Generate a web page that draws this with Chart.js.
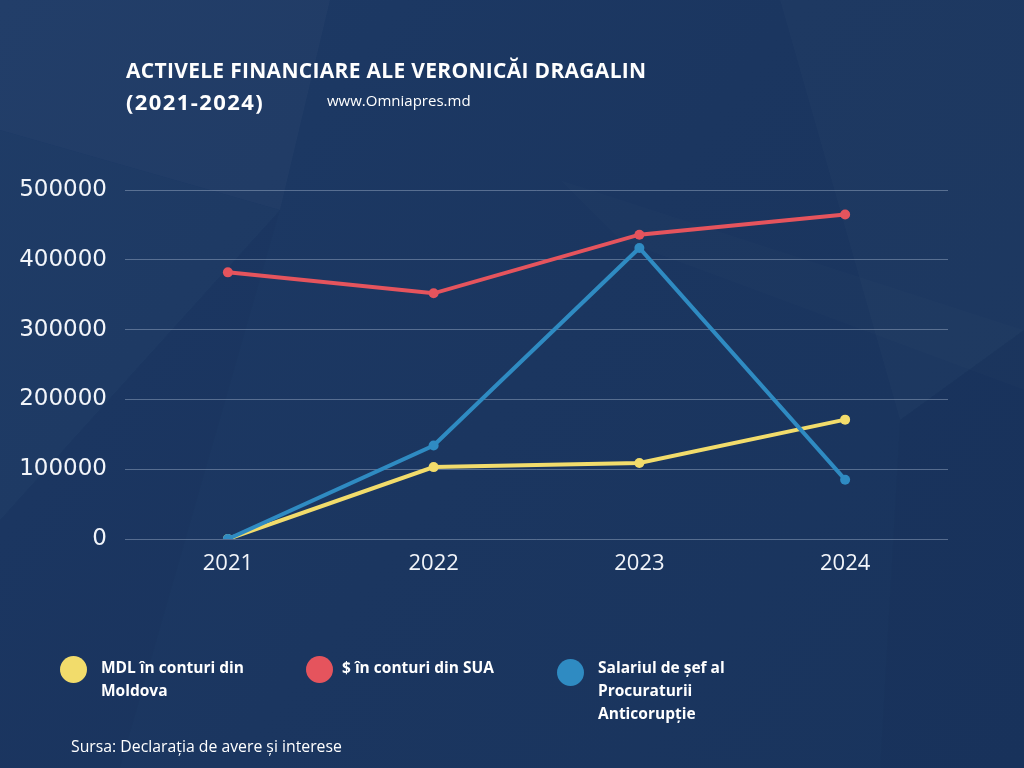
<!DOCTYPE html>
<html>
<head>
<meta charset="utf-8">
<script src="https://cdn.jsdelivr.net/npm/chart.js@4.4.1/dist/chart.umd.min.js"></script>
<style>
  html, body { margin: 0; padding: 0; }
  body { width: 1024px; height: 768px; overflow: hidden; position: relative; background: #1b3660; font-family: "Open Sans", sans-serif; color: #fff; }
  #chart { position: absolute; left: 0; top: 0; }
  .title { position: absolute; left: 126px; top: 55px; font-weight: 700; font-size: 21px; line-height: 31px; letter-spacing: 0.3px; }
  .title .years { font-size: 22px; letter-spacing: 1.4px; }
  .site { position: absolute; left: 327px; top: 90px; font-size: 15px; }
  .legend-item { position: absolute; top: 656px; font-weight: 700; font-size: 15.5px; line-height: 23px; }
  .legend-item .dot { position: absolute; top: 0px; width: 27px; height: 27px; border-radius: 50%; }
  .source { position: absolute; left: 71px; top: 735px; font-size: 15.8px; }
</style>
</head>
<body>
<canvas id="chart" width="1024" height="768"></canvas>
<div class="title">ACTIVELE FINANCIARE ALE VERONICĂI DRAGALIN<br><span class="years">(2021-2024)</span></div>
<div class="site">www.Omniapres.md</div>
<div id="legend"></div>
<div class="source">Sursa: Declarația de avere și interese</div>
<script>
const years = ['2021', '2022', '2023', '2024'];
const mdl_values = [0, 103000, 109000, 171000];
const usd_values = [382000, 352000, 436000, 465000];
const salary_values = [0, 134000, 417000, 85000];
const series_names = [['MDL în conturi din', 'Moldova'], ['$ în conturi din SUA'], ['Salariul de șef al', 'Procuraturii', 'Anticorupție']];
const series_colors = ['#f2dc6b', '#e5545d', '#2f8bc2'];
const y_ticks = [0, 100000, 200000, 300000, 400000, 500000];

// legend built by hand, text wraps like the original
const legendBox = document.getElementById('legend');
const legendLeft = [101, 342, 598];
const dotLeft = [-41, -36, -41];
series_names.forEach((lines, i) => {
  const item = document.createElement('div');
  item.className = 'legend-item';
  item.style.left = legendLeft[i] + 'px';
  item.innerHTML = '<span class="dot" style="background:' + series_colors[i] + ';left:' + dotLeft[i] + 'px' + (i == 2 ? ';top:3px' : '') + '"></span>' + lines.join('<br>');
  legendBox.appendChild(item);
});

// background with some faint facets
const backdrop = {
  id: 'backdrop',
  beforeDraw(chart) {
    const c = chart.ctx;
    c.save();
    const g = c.createLinearGradient(0, 0, 1024, 768);
    g.addColorStop(0, '#1d3a66');
    g.addColorStop(0.5, '#1b3660');
    g.addColorStop(1, '#19345d');
    c.fillStyle = g;
    c.fillRect(0, 0, 1024, 768);
    const facets = [
      [[0, 0], [330, 0], [280, 210], [0, 130], 0.025],
      [[0, 130], [280, 210], [0, 520], 0.012],
      [[0, 520], [280, 210], [120, 768], [0, 768], -0.02],
      [[780, 0], [1024, 0], [1024, 330], [900, 420], 0.015],
      [[560, 180], [1024, 330], [1024, 390], [620, 240], 0.012],
      [[900, 420], [1024, 330], [1024, 768], [880, 768], -0.02]
    ];
    facets.forEach(f => {
      const a = f[f.length - 1];
      c.fillStyle = a > 0 ? 'rgba(255,255,255,' + a + ')' : 'rgba(0,0,20,' + (-a) + ')';
      c.beginPath();
      for (let k = 0; k < f.length - 1; k++) {
        if (k == 0) c.moveTo(f[k][0], f[k][1]); else c.lineTo(f[k][0], f[k][1]);
      }
      c.closePath();
      c.fill();
    });
    c.restore();
  }
};

const values = [mdl_values, usd_values, salary_values];
const drawOrder = [1, 2, 0];

new Chart(document.getElementById('chart'), {
  type: 'line',
  data: {
    labels: years,
    datasets: values.map((v, i) => ({
      label: series_names[i].join(' '),
      data: v,
      borderColor: series_colors[i],
      backgroundColor: series_colors[i],
      borderWidth: 4,
      pointRadius: 5,
      pointBorderWidth: 0,
      tension: 0,
      order: drawOrder[i]
    }))
  },
  options: {
    responsive: false,
    animation: false,
    layout: { padding: { left: 0, right: 76, top: 190, bottom: 189 } },
    plugins: { legend: { display: false }, tooltip: { enabled: false } },
    scales: {
      x: {
        offset: true,
        grid: { display: false },
        border: { display: false },
        ticks: { color: '#f2f5fa', font: { family: 'Open Sans', size: 22 }, padding: 4 },
        afterFit(scale) { scale.height = 40; }
      },
      y: {
        min: 0,
        max: 500000,
        afterBuildTicks(scale) { scale.ticks = y_ticks.map(v => ({ value: v })); },
        grid: { color: 'rgba(200,215,235,0.35)', lineWidth: 1, drawTicks: false },
        border: { display: false },
        ticks: { color: '#f2f5fa', font: { family: 'DejaVu Sans', size: 23 }, padding: 18, callback: v => String(v) },
        afterFit(scale) { scale.width = 125; }
      }
    }
  },
  plugins: [backdrop]
});
</script>
</body>
</html>
